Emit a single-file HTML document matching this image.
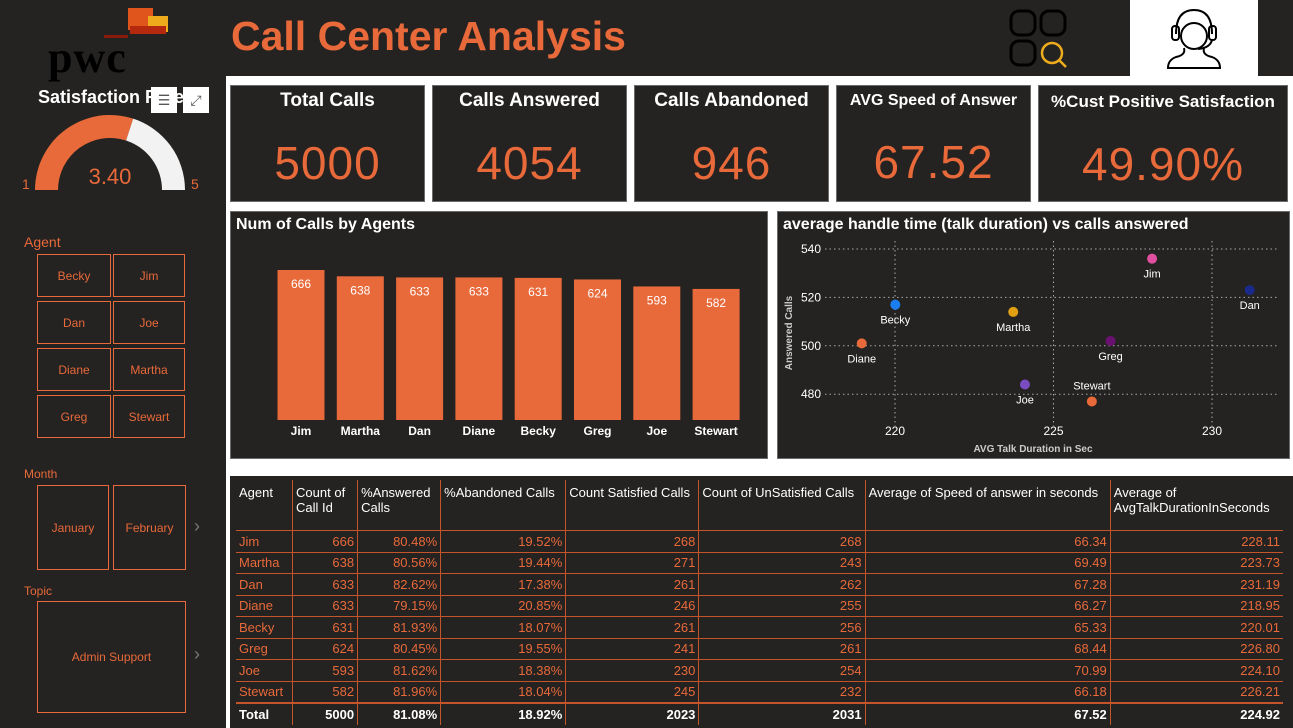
<!DOCTYPE html>
<html><head><meta charset="utf-8"><style>
body{margin:0;width:1293px;height:728px;background:#252321;overflow:hidden;position:relative;font-family:"Liberation Sans",sans-serif;}
.a{position:absolute;box-sizing:border-box;}
.card{background:#252321;border:1px solid #6b6b6b;color:#fff;text-align:center;white-space:nowrap;}
.card .t{font-size:19px;font-weight:bold;margin-top:4px;}
.card .v{font-size:46px;color:#e8693a;margin-top:24px;letter-spacing:1px;}
.btn{border:1px solid #e8693a;color:#e8693a;font-size:12px;display:flex;align-items:center;justify-content:center;}
.lab{color:#e8693a;font-size:14px;}
table{border-collapse:collapse;font-size:13px;}
td{border-left:1px solid #c4552a;border-top:1px solid #c4552a;padding:0 3px;height:20.5px;color:#e8693a;text-align:right;}
th{border-left:1px solid #c4552a;color:#fff;font-weight:normal;text-align:left;vertical-align:top;padding:5px 3px;height:40px;}
tr td:first-child,tr th:first-child{border-left:none;text-align:left;}
.tot td{color:#fff;font-weight:bold;border-top:2px solid #c4552a;}
</style></head><body>
<div class="a" style="left:48px;top:8px;width:130px;height:60px">
 <div class="a" style="left:80px;top:0;width:25px;height:22px;background:#e0551b"></div>
 <div class="a" style="left:100px;top:8px;width:20px;height:16px;background:#eeac1d"></div>
 <div class="a" style="left:82px;top:18px;width:36px;height:8px;background:#b52a0e"></div>
 <div class="a" style="left:56px;top:27px;width:24px;height:3px;background:#8a1a0a"></div>
 <div class="a" style="left:0;top:24px;font:bold 44px 'Liberation Serif',serif;color:#000;letter-spacing:1px">pwc</div>
</div>
<div class="a" style="left:231px;top:13px;font-size:41px;font-weight:bold;color:#e8693a">Call Center Analysis</div>
<svg class="a" style="left:1008px;top:8px" width="64" height="62"><g fill="none" stroke="#000" stroke-width="3"><rect x="3" y="3" width="24" height="24" rx="8"/><rect x="33" y="3" width="24" height="24" rx="8"/><rect x="3" y="33" width="24" height="24" rx="8"/></g><circle cx="44" cy="45" r="10" fill="none" stroke="#eeac1d" stroke-width="2.5"/><line x1="51" y1="52" x2="58" y2="59" stroke="#eeac1d" stroke-width="2.5"/></svg>
<div class="a" style="left:1130px;top:0;width:128px;height:76px;background:#fff">
<svg width="128" height="76"><g fill="none" stroke="#000" stroke-width="2"><path d="M46 34 Q46 10 64 10 Q82 10 82 34"/><rect x="42" y="26" width="7" height="14" rx="3"/><rect x="79" y="26" width="7" height="14" rx="3"/><circle cx="64" cy="36" r="13"/><path d="M82 40 Q80 48 68 49"/><path d="M54 48 Q56 55 46 57 Q38 60 38 68 L90 68 Q90 60 82 57 Q72 55 74 48"/></g></svg></div>
<div class="a" style="left:226px;top:76px;width:1067px;height:652px;background:#fff"></div>

<div class="a" style="left:38px;top:87px;color:#fff;font-size:18px;font-weight:bold">Satisfaction Rate</div>
<div class="a" style="left:151px;top:87px;width:26px;height:26px;background:#fff;color:#555;font-size:14px;text-align:center;line-height:26px">☰</div>
<div class="a" style="left:183px;top:87px;width:26px;height:26px;background:#fff;color:#555;font-size:14px;text-align:center;line-height:26px">⤢</div>
<svg class="a" id="gauge" style="left:0;top:110px" width="220" height="90"></svg>

<div class="a lab" style="left:24px;top:234px">Agent</div>
<div id="agents"></div>
<div class="a lab" style="left:24px;top:467px;font-size:12px">Month</div>
<div class="a btn" style="left:37px;top:485px;width:72px;height:85px">January</div>
<div class="a btn" style="left:113px;top:485px;width:73px;height:85px">February</div>
<div class="a" style="left:194px;top:516px;color:#777;font-size:18px">›</div>
<div class="a lab" style="left:24px;top:584px;font-size:12px">Topic</div>
<div class="a btn" style="left:37px;top:601px;width:149px;height:112px">Admin Support</div>
<div class="a" style="left:194px;top:644px;color:#777;font-size:18px">›</div>

<div class="a card" style="left:230px;top:85px;width:195px;height:117px"><div class="t">Total Calls</div><div class="v">5000</div></div>
<div class="a card" style="left:432px;top:85px;width:195px;height:117px"><div class="t">Calls Answered</div><div class="v">4054</div></div>
<div class="a card" style="left:634px;top:85px;width:195px;height:117px"><div class="t">Calls Abandoned</div><div class="v">946</div></div>
<div class="a card" style="left:836px;top:85px;width:195px;height:117px"><div class="t" style="font-size:16px;margin-top:6px">AVG Speed of Answer</div><div class="v" style="margin-top:25px">67.52</div></div>
<div class="a card" style="left:1038px;top:85px;width:250px;height:117px"><div class="t" style="font-size:17px;margin-top:6px">%Cust Positive Satisfaction</div><div class="v" style="margin-top:25px">49.90%</div></div>

<div class="a card" style="left:230px;top:211px;width:538px;height:248px;text-align:left"><div style="font-size:16px;font-weight:bold;margin:4px 5px">Num of Calls by Agents</div></div>
<svg class="a" id="bars" style="left:230px;top:211px" width="538" height="248"></svg>
<div class="a card" style="left:777px;top:211px;width:513px;height:248px;text-align:left"><div style="font-size:16px;font-weight:bold;margin:4px 5px">average handle time (talk duration) vs calls answered</div></div>
<svg class="a" id="scatter" style="left:777px;top:211px" width="513" height="248"></svg>

<div class="a" style="left:230px;top:476px;width:1063px;height:252px;background:#252321;padding:4px 0 0 6px">
<table id="tbl" style="width:1047px"></table></div>

<script>
const gaugeMin=1, gaugeMax=5, gaugeValue=3.40;
(function(){
 const s=document.getElementById('gauge'),cx=110,cy=80,R=75,r=52;
 function arc(a0,a1,col,name){const p=(a,rad)=>[cx-rad*Math.cos(a),cy-rad*Math.sin(a)];
  const [x0,y0]=p(a0,R),[x1,y1]=p(a1,R),[x2,y2]=p(a1,r),[x3,y3]=p(a0,r);
  const e=document.createElementNS('http://www.w3.org/2000/svg','path');
  e.setAttribute('d',`M${x0} ${y0}A${R} ${R} 0 0 1 ${x1} ${y1}L${x2} ${y2}A${r} ${r} 0 0 0 ${x3} ${y3}Z`);
  e.setAttribute('fill',col);
  
  
  s.appendChild(e);}
 const f=(gaugeValue-gaugeMin)/(gaugeMax-gaugeMin);
 arc(0,Math.PI*f,'#e8693a','gauge-fill');arc(Math.PI*f,Math.PI,'#f2f2f2','gauge-rest');
 s.innerHTML+=`<text x="110" y="74" text-anchor="middle" fill="#e8693a" font-size="22" font-family="Liberation Sans">${gaugeValue.toFixed(2)}</text><text x="22" y="79" fill="#e8693a" font-size="14">${gaugeMin}</text><text x="191" y="79" fill="#e8693a" font-size="14">${gaugeMax}</text>`;
})();
const slicerAgents=['Becky','Jim','Dan','Joe','Diane','Martha','Greg','Stewart'];
(function(){const c=document.getElementById('agents');
 slicerAgents.forEach((n,i)=>{const d=document.createElement('div');d.className='a btn';
  
  
  const col=i%2,row=Math.floor(i/2);
  d.style.cssText=`left:${col?113:37}px;top:${254+row*47}px;width:${col?72:74}px;height:43px`;d.textContent=n;c.appendChild(d);});})();
const barAgents=['Jim','Martha','Dan','Diane','Becky','Greg','Joe','Stewart'];
const barValues=[666,638,633,633,631,624,593,582];
(function(){const s=document.getElementById('bars');let h='';
 const base=209,k=150/666,x0=71,step=59.3,w=47;
 barAgents.forEach((a,i)=>{const v=barValues[i],cx=x0+i*step,t=base-v*k;
  h+=`<rect x="${cx-w/2}" y="${t}" width="${w}" height="${v*k}" fill="#e8693a"/>`;
  h+=`<text x="${cx}" y="${t+18}" text-anchor="middle" fill="#fff" font-size="12">${v}</text>`;
  h+=`<text x="${cx}" y="${base+15}" text-anchor="middle" fill="#fff" font-size="12" font-weight="bold">${a}</text>`;});
 s.innerHTML=h;})();
const scAgents=['Jim','Martha','Dan','Diane','Becky','Greg','Joe','Stewart'];
const scTalk=[228.11,223.73,231.19,218.95,220.01,226.80,224.10,226.21];
const scAnswered=[536,514,523,501,517,502,484,477];
const scColors=['#e04fa0','#e0a012','#1a2a8a','#e8693a','#1a7ef0','#6a1070','#7a4cc0','#e8693a'];
const xTicks=[220,225,230], yTicks=[480,500,520,540];
(function(){const s=document.getElementById('scatter');let h='';
 const X=v=>118+(v-220)*31.7, Y=v=>38+(540-v)*2.42;
 yTicks.forEach(t=>{h+=`<line x1="48" x2="500" y1="${Y(t)}" y2="${Y(t)}" stroke="#aaa" stroke-dasharray="1.5 3"/><text x="44" y="${Y(t)+4}" text-anchor="end" fill="#fff" font-size="12">${t}</text>`;});
 xTicks.forEach(t=>{h+=`<line x1="${X(t)}" x2="${X(t)}" y1="30" y2="215" stroke="#aaa" stroke-dasharray="1.5 3"/><text x="${X(t)}" y="224" text-anchor="middle" fill="#fff" font-size="12">${t}</text>`;});
 h+=`<text x="256" y="241" text-anchor="middle" fill="#ccc" font-size="10" font-weight="bold">AVG Talk Duration in Sec</text>`;
 h+=`<text transform="translate(15,122) rotate(-90)" text-anchor="middle" fill="#ccc" font-size="10" font-weight="bold">Answered Calls</text>`;
 scAgents.forEach((a,i)=>{const x=X(scTalk[i]),y=Y(scAnswered[i]);
  h+=`<circle cx="${x}" cy="${y}" r="5" fill="${scColors[i]}"/>`;
  const ly=a==='Stewart'?y-12:y+19;
  h+=`<text x="${x}" y="${ly}" text-anchor="middle" fill="#fff" font-size="11">${a}</text>`;});
 s.innerHTML=h;})();
const tHeaders=['Agent','Count of Call Id','%Answered Calls','%Abandoned Calls','Count Satisfied Calls','Count of UnSatisfied Calls','Average of Speed of answer in seconds','Average of AvgTalkDurationInSeconds'];
const tAgents=['Jim','Martha','Dan','Diane','Becky','Greg','Joe','Stewart'];
const tCount=[666,638,633,633,631,624,593,582];
const tAns=['80.48%','80.56%','82.62%','79.15%','81.93%','80.45%','81.62%','81.96%'];
const tAband=['19.52%','19.44%','17.38%','20.85%','18.07%','19.55%','18.38%','18.04%'];
const tSat=[268,271,261,246,261,241,230,245];
const tUnsat=[268,243,262,255,256,261,254,232];
const tSpeed=['66.34','69.49','67.28','66.27','65.33','68.44','70.99','66.18'];
const tTalk=['228.11','223.73','231.19','218.95','220.01','226.80','224.10','226.21'];
const tTotal=['Total','5000','81.08%','18.92%','2023','2031','67.52','224.92'];
(function(){const t=document.getElementById('tbl');const widths=[57,65,83,125,133,166,245,173];
 let h='<tr>'+tHeaders.map((x,i)=>`<th style="width:${widths[i]-7}px">${x}</th>`).join('')+'</tr>';
 tAgents.forEach((a,i)=>{h+='<tr>'+[a,tCount[i],tAns[i],tAband[i],tSat[i],tUnsat[i],tSpeed[i],tTalk[i]].map(v=>`<td>${v}</td>`).join('')+'</tr>';});
 h+='<tr class="tot">'+tTotal.map(v=>`<td>${v}</td>`).join('')+'</tr>';
 t.innerHTML=h;})();
</script>
</body></html>
